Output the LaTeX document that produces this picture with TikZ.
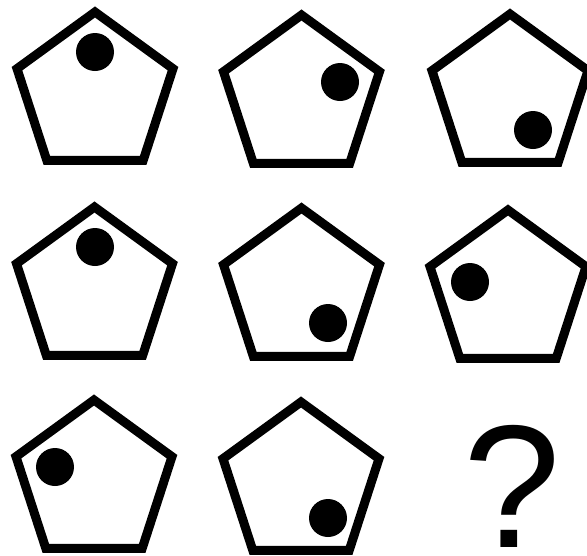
\documentclass[tikz,border=0pt]{standalone}
\usepackage{fontspec}
\newfontfamily\qfont{Liberation Sans}
\begin{document}
\begin{tikzpicture}[x=1pt,y=-1pt,
  pent/.style={draw=black,line width=9pt,line join=miter,fill=white},
  dotc/.style={fill=black}]
\useasboundingbox (0,0) rectangle (587,555);
\fill[white] (0,0) rectangle (587,555);
\foreach \cx/\cy/\dx/\dy in {95/94/95/52, 301.5/97/340/82, 510/96/533/130,
  94.5/289/95/247, 301.5/290/328/323, 508/292/470/282,
  94/482/55/467, 301/484/328/518}{
  \draw[pent] (\cx,\cy) +(-90:82) -- +(-18:82) -- +(54:82) -- +(126:82) -- +(198:82) -- cycle;
  \fill[dotc] (\dx,\dy) circle (19);
}
\node[anchor=base,inner sep=0pt] (q) at (512,547) {\qfont\fontsize{175}{175}\selectfont ?};
\end{tikzpicture}
\end{document}
